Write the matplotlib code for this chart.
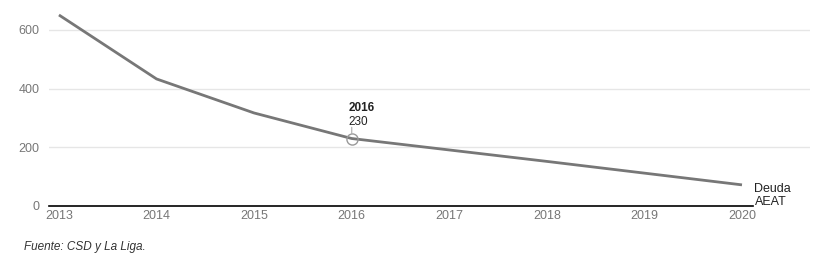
import matplotlib
matplotlib.use('Agg')
import matplotlib.pyplot as plt

plt.rcParams['font.family'] = ['Liberation Sans', 'DejaVu Sans']

years = [2013, 2014, 2015, 2016, 2017, 2018, 2019, 2020]
deuda = [651, 433, 317, 230, 191, 152, 112, 72]
yticks = [0, 200, 400, 600]
hl_year, hl_val = 2016, 230

W, H = 815, 267
fig = plt.figure(figsize=(W / 100, H / 100), dpi=100)
ax = fig.add_axes([49 / W, (H - 206) / H, 761 / W, 201 / H])

ax.set_xlim(2012.898, 2020.697)
ax.set_ylim(0, 685)

for v in yticks[1:]:
    ax.axhline(v, color='#e6e6e6', lw=1, zorder=0)
ax.plot([2012.898, 2020.11], [0, 0], color='black', lw=1.2, zorder=2, clip_on=False)

ax.plot(years, deuda, color='#777777', lw=2, zorder=3, solid_capstyle='butt')

# highlighted point
ax.plot([hl_year], [hl_val], 'o', ms=8, mfc='none', mec='#999999', mew=1, zorder=4)
ax.annotate('', xy=(hl_year, hl_val), xytext=(0, 8), textcoords='offset points',
            arrowprops=dict(arrowstyle='-', color='#bbbbbb', lw=1, shrinkA=0, shrinkB=4))
ax.annotate('2016', xy=(hl_year, hl_val), xytext=(-2, 17.5), textcoords='offset points',
            fontsize=8.5, fontweight='bold', color='#222222', ha='left', va='bottom')
ax.annotate(str(hl_val), xy=(hl_year, hl_val), xytext=(-2, 7.5), textcoords='offset points',
            fontsize=8.5, color='#222222', ha='left', va='bottom')

ax.annotate('Deuda\nAEAT', xy=(2020, deuda[-1]), xytext=(9, 1), textcoords='offset points',
            fontsize=9, color='#222222', ha='left', va='top', linespacing=1.05)

for s in ax.spines.values():
    s.set_visible(False)
ax.set_xticks(years)
ax.set_xticklabels([str(y) for y in years])
ax.set_yticks(yticks)
ax.tick_params(axis='both', length=0, labelsize=9, colors='#777777')
ax.tick_params(axis='x', pad=3)
ax.tick_params(axis='y', pad=7)

fig.text(24 / W, 1 - 247 / H, 'Fuente: CSD y La Liga.', fontsize=8.5, style='italic',
         color='#333333', ha='left', va='center')

fig.savefig('out.png', dpi=100)
